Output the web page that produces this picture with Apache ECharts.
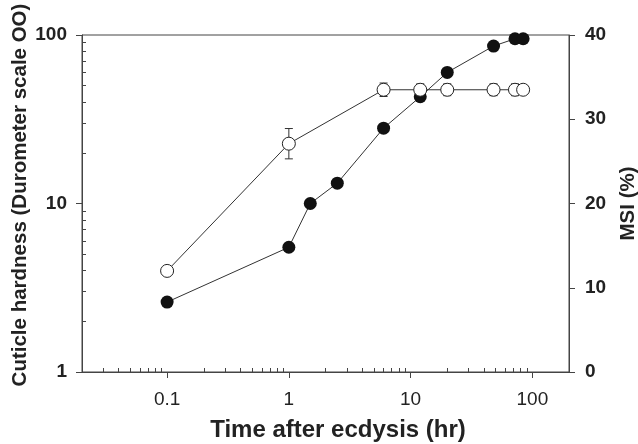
<!DOCTYPE html>
<html>
<head>
<meta charset="utf-8">
<script src="https://cdn.jsdelivr.net/npm/echarts@6/dist/echarts.min.js"></script>
<style>
  html, body { margin: 0; padding: 0; background: #fff; }
  #chart { width: 638px; height: 444px; }
</style>
</head>
<body>
<div id="chart"></div>
<script>
// hardness (filled circles, left log axis)
const hardTime = [0.1, 1, 1.5, 2.5, 6, 12, 20, 48, 72, 84]
const hardness = [2.6, 5.5, 10, 13.2, 28, 43, 60, 86, 95, 95]
// MSI (open circles, right axis) with error bars
const msiTime = [0.1, 1, 6, 12, 20, 48, 72, 84]
const msi = [12, 27.1, 33.5, 33.5, 33.5, 33.5, 33.5, 33.5]
const msiErr = [0.4, 1.8, 0.8, 0.7, 0.7, 0.7, 0.7, 0.5]

// tick positions
const xMajor = [0.1, 1, 10, 100]
const xMinor = [0.03, 0.04, 0.05, 0.06, 0.07, 0.08, 0.09,
  0.2, 0.3, 0.4, 0.5, 0.6, 0.7, 0.8, 0.9,
  2, 3, 4, 5, 6, 7, 8, 9,
  20, 30, 40, 50, 60, 70, 80, 90]
const yMajor = [1, 10, 100]
const yMinor = [2, 3, 4, 5, 6, 7, 8, 9, 20, 30, 40, 50, 60, 70, 80, 90]

const axisColor = '#444'
const textColor = '#222'
const font = 'Liberation Sans, Arial, sans-serif'

const chart = echarts.init(document.getElementById('chart'))

const pairs = (xs, ys) => xs.map((x, i) => [x, ys[i]])

const option = {
  animation: false,
  backgroundColor: '#fff',
  grid: {
    left: 82, right: 69, top: 35, bottom: 72,
    outerBoundsMode: 'none',
    show: true, borderColor: axisColor, borderWidth: 1, backgroundColor: 'transparent'
  },
  xAxis: [
    {
      type: 'log', logBase: 10, min: 0.02, max: 200, position: 'bottom',
      name: 'Time after ecdysis (hr)', nameLocation: 'middle', nameGap: 46,
      nameTextStyle: { fontFamily: font, fontSize: 24, fontWeight: 'bold', color: textColor, padding: [0, 0, 0, 25] },
      axisLine: { show: true, lineStyle: { color: axisColor, width: 1 } },
      axisTick: { show: true, inside: false, length: 6, customValues: xMajor, lineStyle: { color: axisColor } },
      axisLabel: {
        customValues: xMajor, margin: 18, fontFamily: font, fontSize: 19, color: textColor,
        formatter: v => String(+(+v).toPrecision(3))
      },
      splitLine: { show: false },
      minorTick: { show: false }
    },
    {
      type: 'log', logBase: 10, min: 0.02, max: 200, position: 'bottom',
      axisLine: { show: false },
      axisTick: { show: true, inside: true, length: 4, customValues: xMinor, lineStyle: { color: axisColor } },
      axisLabel: { show: false },
      splitLine: { show: false }
    }
  ],
  yAxis: [
    {
      type: 'log', logBase: 10, min: 1, max: 100, position: 'left',
      name: 'Cuticle hardness (Durometer scale OO)', nameLocation: 'middle', nameRotate: 90, nameGap: 51,
      nameMoveOverlap: false,
      nameTextStyle: { fontFamily: font, fontSize: 20.5, fontWeight: 'bold', color: textColor, padding: [0, 0, 0, 17] },
      axisLine: { show: true, lineStyle: { color: axisColor, width: 1 } },
      axisTick: { show: true, inside: false, length: 6, customValues: yMajor, lineStyle: { color: axisColor } },
      axisLabel: {
        customValues: yMajor, margin: 15, fontFamily: font, fontSize: 19, fontWeight: 'bold', color: textColor,
        formatter: v => String(+(+v).toPrecision(3))
      },
      splitLine: { show: false }
    },
    {
      type: 'log', logBase: 10, min: 1, max: 100, position: 'left',
      axisLine: { show: false },
      axisTick: { show: true, inside: true, length: 4, customValues: yMinor, lineStyle: { color: axisColor } },
      axisLabel: { show: false },
      splitLine: { show: false }
    },
    {
      type: 'value', min: 0, max: 40, interval: 10, position: 'right',
      name: 'MSI (%)', nameLocation: 'middle', nameRotate: 90, nameGap: 49,
      nameTextStyle: { fontFamily: font, fontSize: 20.5, fontWeight: 'bold', color: textColor },
      axisLine: { show: true, lineStyle: { color: axisColor, width: 1 } },
      axisTick: { show: true, inside: false, length: 6, lineStyle: { color: axisColor } },
      axisLabel: { margin: 16, fontFamily: font, fontSize: 19, fontWeight: 'bold', color: textColor },
      splitLine: { show: false }
    }
  ],
  series: [
    {
      name: 'Hardness', type: 'line', xAxisIndex: 0, yAxisIndex: 0, z: 3,
      data: pairs(hardTime, hardness),
      symbol: 'circle', symbolSize: 13,
      itemStyle: { color: '#111' },
      lineStyle: { color: '#333', width: 1 }
    },
    {
      name: 'MSI error', type: 'custom', xAxisIndex: 0, yAxisIndex: 2, z: 4,
      data: msiTime.map((t, i) => [t, msi[i], msiErr[i]]),
      renderItem: (params, api) => {
        const x = api.value(0), y = api.value(1), e = api.value(2)
        const top = api.coord([x, y + e])
        const bot = api.coord([x, y - e])
        const w = 4
        const style = { stroke: '#333', lineWidth: 1 }
        return {
          type: 'group',
          children: [
            { type: 'line', shape: { x1: top[0], y1: top[1], x2: bot[0], y2: bot[1] }, style },
            { type: 'line', shape: { x1: top[0] - w, y1: top[1], x2: top[0] + w, y2: top[1] }, style },
            { type: 'line', shape: { x1: bot[0] - w, y1: bot[1], x2: bot[0] + w, y2: bot[1] }, style }
          ]
        }
      }
    },
    {
      name: 'MSI', type: 'line', xAxisIndex: 0, yAxisIndex: 2, z: 5,
      data: pairs(msiTime, msi),
      symbol: 'circle', symbolSize: 13,
      itemStyle: { color: '#fff', borderColor: '#222', borderWidth: 1 },
      lineStyle: { color: '#333', width: 1 }
    }
  ]
}

chart.setOption(option)
</script>
</body>
</html>
